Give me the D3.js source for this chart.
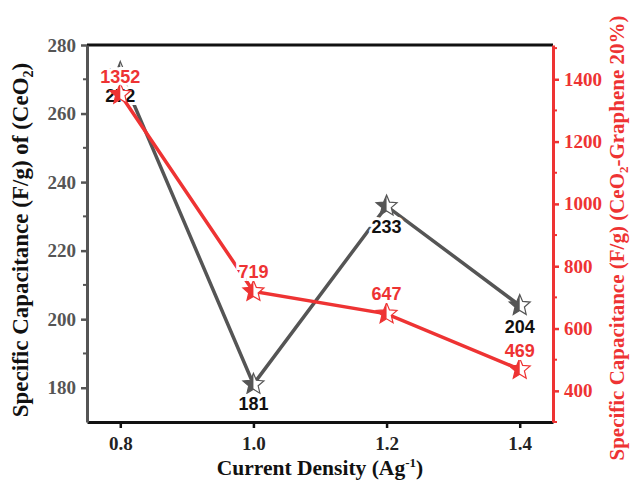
<!DOCTYPE html>
<html>
<head>
<meta charset="utf-8">
<script src="https://cdn.jsdelivr.net/npm/d3@7"></script>
<style>
  body { margin: 0; background: #fff; }
  svg { display: block; }
</style>
</head>
<body>
<div id="chart"></div>
<script>
// data
var currentDensity = [0.8, 1.0, 1.2, 1.4];
var ceo2Values = [272, 181, 233, 204];
var grapheneValues = [1352, 719, 647, 469];
var leftTicks = [180, 200, 220, 240, 260, 280];
var rightTicks = [400, 600, 800, 1000, 1200, 1400];

var width = 632, height = 482;
var margin = { top: 45, right: 79, bottom: 60, left: 87 };
var gray = '#555555', red = '#ee3333';

var svg = d3.select('#chart').append('svg')
  .attr('width', width)
  .attr('height', height);

var x = d3.scaleLinear().domain([0.75, 1.45]).range([margin.left, width - margin.right]);
var yL = d3.scaleLinear().domain([170, 280]).range([height - margin.bottom, margin.top]);
var yR = d3.scaleLinear().domain([300, 1510]).range([height - margin.bottom, margin.top]);

var serif = '"Liberation Serif", "Times New Roman", serif';
var sans = '"Liberation Sans", Arial, sans-serif';

// top frame line
svg.append('line')
  .attr('x1', margin.left).attr('x2', width - margin.right)
  .attr('y1', margin.top).attr('y2', margin.top)
  .attr('stroke', '#111').attr('stroke-width', 3);

// x axis
var xAxis = svg.append('g')
  .attr('transform', 'translate(0,' + (height - margin.bottom) + ')')
  .call(d3.axisBottom(x).tickValues(currentDensity).tickFormat(d3.format('.1f')).tickSize(6).tickSizeOuter(0));
xAxis.select('.domain').attr('stroke', '#111').attr('stroke-width', 3);
xAxis.selectAll('.tick line').attr('stroke', '#111').attr('stroke-width', 2.5);
xAxis.selectAll('.tick text')
  .attr('font-family', serif).attr('font-weight', 'bold').attr('font-size', 19)
  .attr('fill', '#222').attr('dy', '1.0em');

// left axis
var leftAxis = svg.append('g')
  .attr('transform', 'translate(' + margin.left + ',0)')
  .call(d3.axisLeft(yL).tickValues(leftTicks).tickSize(6).tickSizeOuter(0).tickPadding(5));
leftAxis.select('.domain').attr('stroke', gray).attr('stroke-width', 3);
leftAxis.selectAll('.tick line').attr('stroke', gray).attr('stroke-width', 2.5);
leftAxis.selectAll('.tick text')
  .attr('font-family', serif).attr('font-weight', 'bold').attr('font-size', 19).attr('fill', gray);
leftAxis.selectAll('.minor').data(d3.range(190, 280, 20)).enter().append('line')
  .attr('x1', -4).attr('x2', 0)
  .attr('y1', function(d) { return yL(d); }).attr('y2', function(d) { return yL(d); })
  .attr('stroke', gray).attr('stroke-width', 2);

// right axis
var rightAxis = svg.append('g')
  .attr('transform', 'translate(' + (width - margin.right) + ',0)')
  .call(d3.axisRight(yR).tickValues(rightTicks).tickFormat(d3.format('d')).tickSize(6).tickSizeOuter(0).tickPadding(5));
rightAxis.select('.domain').attr('stroke', red).attr('stroke-width', 3);
rightAxis.selectAll('.tick line').attr('stroke', red).attr('stroke-width', 2.5);
rightAxis.selectAll('.tick text')
  .attr('font-family', serif).attr('font-weight', 'bold').attr('font-size', 19).attr('fill', red);
rightAxis.selectAll('.minor').data(d3.range(300, 1510, 200)).enter().append('line')
  .attr('x1', 0).attr('x2', 4)
  .attr('y1', function(d) { return yR(d); }).attr('y2', function(d) { return yR(d); })
  .attr('stroke', red).attr('stroke-width', 2);

// axis titles
svg.append('text')
  .attr('x', (margin.left + width - margin.right) / 2).attr('y', 475)
  .attr('text-anchor', 'middle')
  .attr('font-family', serif).attr('font-weight', 'bold').attr('font-size', 21.5).attr('fill', '#111')
  .html('Current Density (Ag<tspan dy="-8" font-size="13">-1</tspan><tspan dy="8">)</tspan>');

svg.append('text')
  .attr('transform', 'translate(28,240) rotate(-90)')
  .attr('text-anchor', 'middle')
  .attr('font-family', serif).attr('font-weight', 'bold').attr('font-size', 23).attr('fill', '#111')
  .html('Specific Capacitance (F/g) of (CeO<tspan dy="5" font-size="14">2</tspan><tspan dy="-5">)</tspan>');

svg.append('text')
  .attr('transform', 'translate(624,238) rotate(-90)')
  .attr('text-anchor', 'middle')
  .attr('font-family', serif).attr('font-weight', 'bold').attr('font-size', 21).attr('fill', red)
  .html('Specific Capacitance (F/g) (CeO<tspan dy="4" font-size="13">2</tspan><tspan dy="-4">-Graphene 20%)</tspan>');

// star marker path, centred on 0,0
function starPath(r) {
  var pts = [];
  for (var i = 0; i < 10; i++) {
    var a = -Math.PI / 2 + i * Math.PI / 5;
    var rr = i % 2 === 0 ? r : r * 0.45;
    pts.push([rr * Math.cos(a), rr * Math.sin(a)]);
  }
  return 'M' + pts.map(function(p) { return p[0].toFixed(2) + ',' + p[1].toFixed(2); }).join('L') + 'Z';
}
var defs = svg.append('defs');
defs.append('clipPath').attr('id', 'leftHalf')
  .append('rect').attr('x', -20).attr('y', -20).attr('width', 20).attr('height', 40);

function drawSeries(values, yScale, color, labelColor, labelPos) {
  var line = d3.line()
    .x(function(d, i) { return x(currentDensity[i]); })
    .y(function(d) { return yScale(d); });
  svg.append('path')
    .datum(values)
    .attr('d', line)
    .attr('fill', 'none')
    .attr('stroke', color)
    .attr('stroke-width', 3.5)
    .attr('stroke-linejoin', 'miter');

  var marks = svg.selectAll(null).data(values).enter().append('g')
    .attr('transform', function(d, i) { return 'translate(' + x(currentDensity[i]) + ',' + yScale(d) + ')'; });
  marks.append('path').attr('d', starPath(11)).attr('fill', '#fff');
  marks.append('path').attr('d', starPath(11)).attr('fill', color).attr('clip-path', 'url(#leftHalf)');
  marks.append('path').attr('d', starPath(11)).attr('fill', 'none').attr('stroke', color).attr('stroke-width', 1.2);

  // labels sit on a white halo, like the boxed labels of the original
  svg.selectAll(null).data(values).enter().append('text')
    .attr('x', function(d, i) { return x(currentDensity[i]); })
    .attr('y', function(d, i) { return yScale(d) + labelPos[i]; })
    .attr('text-anchor', 'middle')
    .attr('font-family', sans).attr('font-weight', 'bold').attr('font-size', 18)
    .attr('fill', labelColor)
    .attr('stroke', '#fff').attr('stroke-width', 6).attr('paint-order', 'stroke')
    .text(function(d) { return d; });
}

drawSeries(ceo2Values, yL, gray, '#111', [30, 26, 27, 28]);
drawSeries(grapheneValues, yR, red, red, [-11, -13, -14, -12]);
</script>
</body>
</html>
